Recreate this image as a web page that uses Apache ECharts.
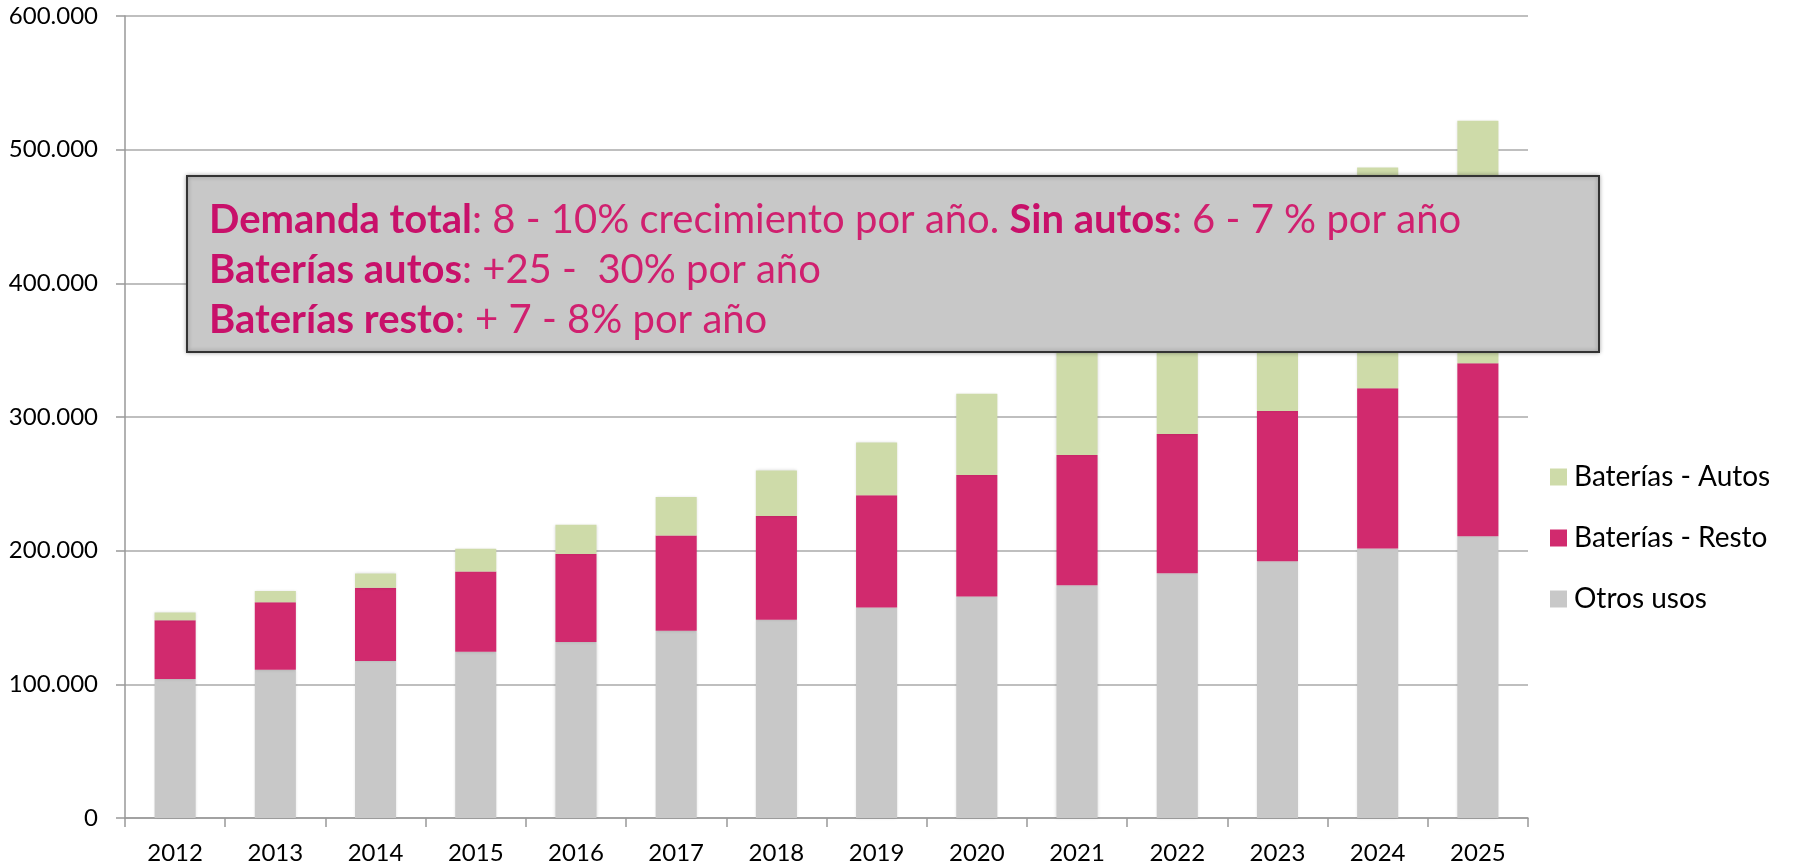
<!DOCTYPE html>
<html>
<head>
<meta charset="utf-8">
<script src="https://cdn.jsdelivr.net/npm/echarts@6/dist/echarts.min.js"></script>
<style>
  html, body { margin: 0; padding: 0; background: #fff; }
  #main { width: 1798px; height: 866px; }
</style>
</head>
<body>
<div id="main"></div>
<script>
var years = ['2012', '2013', '2014', '2015', '2016', '2017', '2018', '2019', '2020', '2021', '2022', '2023', '2024', '2025'];

// toneladas (2021-2023 autos tapados por el cuadro, estimados)
var otrosUsos = [104000, 111000, 117500, 124300, 131700, 140000, 148400, 157500, 165800, 174200, 183100, 192100, 201700, 210700];
var bateriasResto = [44000, 50500, 54800, 60200, 65800, 71400, 77600, 84000, 90800, 97300, 104200, 112400, 119900, 129500];
var bateriasAutos = [5800, 8300, 10700, 17000, 21900, 28700, 34000, 39500, 60800, 83500, 107700, 135500, 165000, 181500];

var yTicks = [0, 100000, 200000, 300000, 400000, 500000, 600000];

var fontName = 'Lato';
var pink = '#d0206f';

function fmt(v) {
  return String(v).replace(/\B(?=(\d{3})+(?!\d))/g, '.');
}

var chart = echarts.init(document.getElementById('main'));

var option = {
  animation: false,
  textStyle: { fontFamily: fontName },
  grid: { left: 125, right: 270, top: 16, bottom: 48 },
  legend: {
    orient: 'vertical',
    left: 1545,
    top: 458,
    itemWidth: 17,
    itemHeight: 17,
    itemGap: 33,
    icon: 'rect',
    data: ['Baterías - Autos', 'Baterías - Resto', 'Otros usos'],
    textStyle: { fontFamily: fontName, fontSize: 28, color: '#000', lineHeight: 28, padding: [0, 0, 0, 2] }
  },
  xAxis: {
    type: 'category',
    data: years,
    axisLine: { lineStyle: { color: '#999', width: 1.5 } },
    axisTick: { show: true, length: 9, lineStyle: { color: '#999', width: 1.5 } },
    axisLabel: { color: '#000', fontSize: 24, margin: 23, fontFamily: fontName }
  },
  yAxis: {
    type: 'value',
    min: yTicks[0],
    max: yTicks[yTicks.length - 1],
    interval: 100000,
    axisLine: { show: true, lineStyle: { color: '#999', width: 1.5 } },
    axisTick: { show: true, length: 9, lineStyle: { color: '#999', width: 1.5 } },
    splitLine: { lineStyle: { color: '#aaa', width: 1.5 } },
    axisLabel: { color: '#000', fontSize: 24, margin: 27, fontFamily: fontName, formatter: fmt }
  },
  series: [
    {
      name: 'Otros usos',
      type: 'bar',
      stack: 'total',
      barWidth: '41%',
      data: otrosUsos,
      itemStyle: { color: '#c8c8c8', shadowBlur: 3, shadowColor: 'rgba(0,0,0,0.15)' }
    },
    {
      name: 'Baterías - Resto',
      type: 'bar',
      stack: 'total',
      data: bateriasResto,
      itemStyle: { color: '#d12a6e', shadowBlur: 3, shadowColor: 'rgba(0,0,0,0.15)' }
    },
    {
      name: 'Baterías - Autos',
      type: 'bar',
      stack: 'total',
      data: bateriasAutos,
      itemStyle: { color: '#cedba9', shadowBlur: 3, shadowColor: 'rgba(0,0,0,0.15)' }
    }
  ],
  graphic: [
    {
      type: 'rect',
      z: 100,
      shape: { x: 187, y: 176, width: 1412, height: 176 },
      style: { fill: '#c8c8c8', stroke: '#333', lineWidth: 2, shadowBlur: 4, shadowColor: 'rgba(0,0,0,0.3)' }
    },
    {
      type: 'text',
      z: 101,
      left: 209,
      top: 200,
      style: {
        text: '{b|Demanda total}{r|: 8 - 10% crecimiento por año. }{b|Sin autos}{r|: 6 - 7 % por año}\n' +
              '{b|Baterías autos}{r|: +25 -  30% por año}\n' +
              '{b|Baterías resto}{r|: + 7 - 8% por año}',
        rich: {
          b: { fontFamily: fontName, fontSize: 40, fontWeight: 'bold', fill: '#c8106a', lineHeight: 50 },
          r: { fontFamily: fontName, fontSize: 40, fill: pink, lineHeight: 50 }
        }
      }
    }
  ]
};

chart.setOption(option);
</script>
</body>
</html>
